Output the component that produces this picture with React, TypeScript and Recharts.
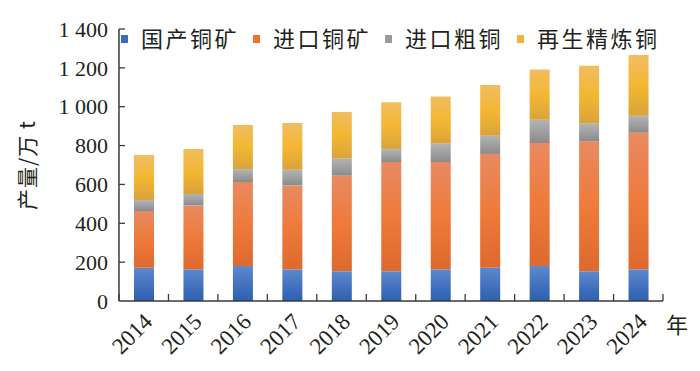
import React from 'react';
import { BarChart, Bar, XAxis, YAxis, Legend } from 'recharts';

// production by source, 10k t
const years = ['2014', '2015', '2016', '2017', '2018', '2019', '2020', '2021', '2022', '2023', '2024'];
const domesticOre = [171, 163, 180, 163, 153, 153, 163, 171, 180, 153, 163];
const importedOre = [292, 329, 432, 432, 492, 562, 552, 586, 633, 669, 703];
const importedBlister = [57, 59, 67, 81, 89, 67, 96, 94, 120, 92, 88];
const recycled = [231, 231, 227, 240, 239, 241, 241, 261, 258, 297, 312];
const yTicks = [0, 200, 400, 600, 800, 1000, 1200, 1400];

const seriesNames = ['国产铜矿', '进口铜矿', '进口粗铜', '再生精炼铜'];

const data = years.map((year, i) => ({
  year,
  domesticOre: domesticOre[i],
  importedOre: importedOre[i],
  importedBlister: importedBlister[i],
  recycled: recycled[i],
}));

const series = [
  { key: 'domesticOre', name: seriesNames[0], color: '#3b6cbf', stops: ['#5d88cb', '#4473c0', '#2d60ad'] },
  { key: 'importedOre', name: seriesNames[1], color: '#ec7534', stops: ['#e98a62', '#ee7a3b', '#dd692f'] },
  { key: 'importedBlister', name: seriesNames[2], color: '#9b9b9b', stops: ['#b3b3b3', '#a0a0a0', '#8a8a8a'] },
  { key: 'recycled', name: seriesNames[3], color: '#f2b537', stops: ['#f1bd62', '#f4b732', '#d9a33b'] },
];

const AXIS = '#3a3a3a';
const TEXT = '#231f20';
const SERIF = '"Liberation Serif", "DejaVu Serif", serif';
const CJK = '"Noto Sans CJK SC", sans-serif';
const Y_MARGIN = 11;

const fmt = (v: number) => {
  const s = String(v);
  return s.length > 3 ? s.slice(0, s.length - 3) + ' ' + s.slice(-3) : s;
};

const YTick = (props: any) => {
  const { x, y, payload } = props;
  const axisX = x + Y_MARGIN;
  return (
    <g>
      {payload.value !== 0 && (
        <line x1={axisX} x2={axisX + 6} y1={y} y2={y} stroke={AXIS} strokeWidth={1.3} />
      )}
      <text x={x} y={y} dy="0.35em" textAnchor="end" fontFamily={SERIF} fontSize={22} fill={TEXT}>
        {fmt(payload.value)}
      </text>
    </g>
  );
};

const XTick = (props: any) => {
  const { x, y, payload, index, visibleTicksCount } = props;
  const half = payload.offset || 544 / years.length / 2;
  const last = index === visibleTicksCount - 1;
  return (
    <g>
      <line x1={x - half} x2={x - half} y1={y} y2={y - 7} stroke={AXIS} strokeWidth={1.3} />
      {last && <line x1={x + half} x2={x + half} y1={y} y2={y - 7} stroke={AXIS} strokeWidth={1.3} />}
      <text
        x={x + 10}
        y={y + 22}
        textAnchor="end"
        transform={`rotate(-45, ${x + 10}, ${y + 22})`}
        fontFamily={SERIF}
        fontSize={23}
        fill={TEXT}
      >
        {payload.value}
      </text>
    </g>
  );
};

const renderLegend = () => (
  <div style={{ display: 'flex', alignItems: 'center', fontFamily: CJK, fontSize: 22, color: TEXT }}>
    {series.map((s) => (
      <div key={s.key} style={{ display: 'flex', alignItems: 'center', marginRight: 14 }}>
        <span style={{ width: 7, height: 8, background: s.color, marginRight: 13, marginTop: 3 }} />
        <span style={{ letterSpacing: 2.5, lineHeight: '24px' }}>{s.name}</span>
      </div>
    ))}
  </div>
);

export default function App() {
  return (
    <div style={{ position: 'absolute', left: 0, top: 0, width: 700, height: 371, background: '#fff' }}>
      <BarChart width={700} height={371} data={data} margin={{ top: 29, right: 37, bottom: 0, left: 0 }}>
        <defs>
          {series.map((s) => (
            <linearGradient key={s.key} id={`g-${s.key}`} x1="0" y1="0" x2="0" y2="1">
              <stop offset="0%" stopColor={s.stops[0]} />
              <stop offset="50%" stopColor={s.stops[1]} />
              <stop offset="100%" stopColor={s.stops[2]} />
            </linearGradient>
          ))}
        </defs>
        <XAxis
          dataKey="year"
          interval={0}
          height={70}
          tickLine={false}
          tickSize={0}
          tickMargin={0}
          axisLine={{ stroke: AXIS, strokeWidth: 1.5 }}
          tick={<XTick />}
          label={{
            content: (p: any) => {
              const vb = p.viewBox;
              return (
                <text x={vb.x + vb.width + 14} y={vb.y + 22} textAnchor="middle" dominantBaseline="central"
                  fontFamily={CJK} fontSize={22} fill={TEXT}>
                  年
                </text>
              );
            },
          }}
        />
        <YAxis
          domain={[0, 1400]}
          ticks={yTicks}
          interval={0}
          width={119}
          tickLine={false}
          tickSize={0}
          tickMargin={Y_MARGIN}
          axisLine={{ stroke: AXIS, strokeWidth: 1.5 }}
          tick={<YTick />}
          label={{
            content: (p: any) => {
              const vb = p.viewBox;
              const cy = vb.y + vb.height / 2;
              return (
                <text transform={`translate(${vb.x + 26}, ${cy}) rotate(-90)`} textAnchor="middle"
                  dominantBaseline="central" fontFamily={CJK} fontSize={21} fill={TEXT} letterSpacing={1}>
                  产量/万 t
                </text>
              );
            },
          }}
        />
        <Legend
          verticalAlign="middle"
          layout="horizontal"
          align="center"
          wrapperStyle={{ top: 25, left: 121, width: 'auto' }}
          content={renderLegend}
        />
        {series.map((s) => (
          <Bar
            key={s.key}
            dataKey={s.key}
            name={s.name}
            stackId="total"
            barSize={20}
            fill={`url(#g-${s.key})`}
            isAnimationActive={false}
          />
        ))}
      </BarChart>
    </div>
  );
}
